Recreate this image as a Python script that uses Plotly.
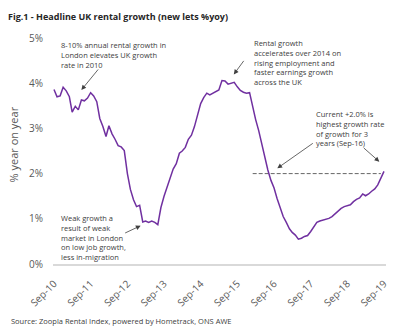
import pandas as pd
import plotly.graph_objects as go

# Monthly UK rental growth (% yoy), Sep-2010 .. Sep-2019
growth = [3.86, 3.70, 3.72, 3.91, 3.83, 3.70, 3.36, 3.49, 3.41, 3.63, 3.61, 3.67,
          3.79, 3.72, 3.59, 3.22, 3.04, 2.82, 3.06, 2.88, 2.76, 2.62, 2.59, 2.51,
          2.00, 1.65, 1.42, 1.27, 1.30, 0.93, 0.95, 0.92, 0.95, 0.92, 0.87, 1.25,
          1.50, 1.70, 1.92, 2.10, 2.22, 2.45, 2.50, 2.58, 2.76, 2.85, 3.04, 3.33,
          3.55, 3.68, 3.78, 3.74, 3.78, 3.81, 3.85, 4.06, 4.05, 3.98, 4.00, 4.02,
          3.92, 3.84, 3.80, 3.78, 3.79, 3.45, 3.20, 2.95, 2.65, 2.35, 2.08, 1.85,
          1.68, 1.45, 1.27, 1.05, 0.92, 0.78, 0.70, 0.64, 0.55, 0.57, 0.61, 0.63,
          0.72, 0.82, 0.92, 0.95, 0.97, 0.99, 1.01, 1.05, 1.11, 1.19, 1.23, 1.27,
          1.29, 1.31, 1.38, 1.43, 1.46, 1.55, 1.51, 1.55, 1.61, 1.66, 1.75, 1.92,
          2.05]
months = pd.date_range("2010-09-01", periods=len(growth), freq="MS")

ref_dates = ["2016-02-01", "2019-08-01"]
ref_level = [2.0, 2.0]

tick_dates = pd.date_range("2010-09-01", "2019-09-01", freq="12MS")
tick_labels = [d.strftime("%b-%y") for d in tick_dates]
y_ticks = [0, 1, 2, 3, 4, 5]
y_labels = ["0%", "1%", "2%", "3%", "4%", "5%"]

FONT = "Open Sans"
TXT = "#404040"

fig = go.Figure()
fig.add_trace(go.Scatter(x=ref_dates, y=ref_level, mode="lines",
                         line=dict(color="#666666", width=1, dash="4px,2px"),
                         hoverinfo="skip"))
fig.add_trace(go.Scatter(x=months, y=growth, mode="lines",
                         line=dict(color="#7030A0", width=1.5)))

def note(text, x, y):
    return dict(text=text, x=x, y=y, xref="paper", yref="paper", xanchor="left",
                yanchor="top", align="left", showarrow=False,
                font=dict(family=FONT, size=7.5, color=TXT))

def arrow(x, y, ax, ay):
    return dict(text="", x=x, y=y, xref="paper", yref="paper", ax=ax, ay=ay,
                showarrow=True, arrowhead=2, arrowsize=1.2, arrowwidth=0.8,
                arrowcolor="#404040")

annotations = [
    note("8-10% annual rental growth in<br>London elevates UK growth<br>rate in 2010", 0.019, 1.0),
    arrow(0.0852, 0.770, 18, -22),
    note("Rental growth<br>accelerates over 2014 on<br>rising employment and<br>faster earnings growth<br>across the UK", 0.598, 1.008),
    arrow(0.543, 0.839, 11, -15),
    note("Current +2.0% is<br>highest growth rate<br>of growth for 3<br>years (Sep-16)", 0.785, 0.694),
    arrow(0.6736, 0.4235, 37, -26),
    arrow(0.980, 0.4527, -17, -15),
    note("Weak growth a<br>result of weak<br>market in London<br>on low job growth,<br>less in-migration", 0.018, 0.236),
    arrow(0.2632, 0.1695, -17, 8),
    dict(text="% year on year", x=-0.1157, y=0.531, xref="paper", yref="paper",
         textangle=-90, showarrow=False, xanchor="center", yanchor="middle",
         font=dict(family=FONT, size=11, color="#595959")),
    dict(text="Source: Zoopla Rental Index, powered by Hometrack, ONS AWE",
         x=-0.1335, y=-0.252, xref="paper", yref="paper", xanchor="left",
         yanchor="middle", showarrow=False,
         font=dict(family=FONT, size=7.5, color="#404040")),
]

fig.update_layout(
    width=400, height=329,
    margin=dict(l=53, r=10, t=38, b=65),
    paper_bgcolor="white", plot_bgcolor="white",
    showlegend=False,
    title=dict(text="<b>Fig.1 - Headline UK rental growth (new lets %yoy)</b>",
               x=0.02, xanchor="left", y=0.948, yanchor="middle",
               font=dict(family=FONT, size=9, color="#262626")),
    font=dict(family=FONT, color="#595959"),
    annotations=annotations,
    xaxis=dict(range=["2010-08-22", "2019-09-21"], tickvals=tick_dates,
               ticktext=tick_labels, tickangle=-45, showgrid=False,
               zeroline=False, showline=True, linecolor="#d9d9d9", linewidth=2,
               ticks="", ticklabelstandoff=8,
               tickfont=dict(family=FONT, size=10, color="#595959")),
    yaxis=dict(range=[0, 5], tickvals=y_ticks, ticktext=y_labels,
               showgrid=False, zeroline=False, showline=False, ticks="",
               ticklabelstandoff=9,
               tickfont=dict(family=FONT, size=10, color="#595959")),
)

fig.write_html("out.html")
